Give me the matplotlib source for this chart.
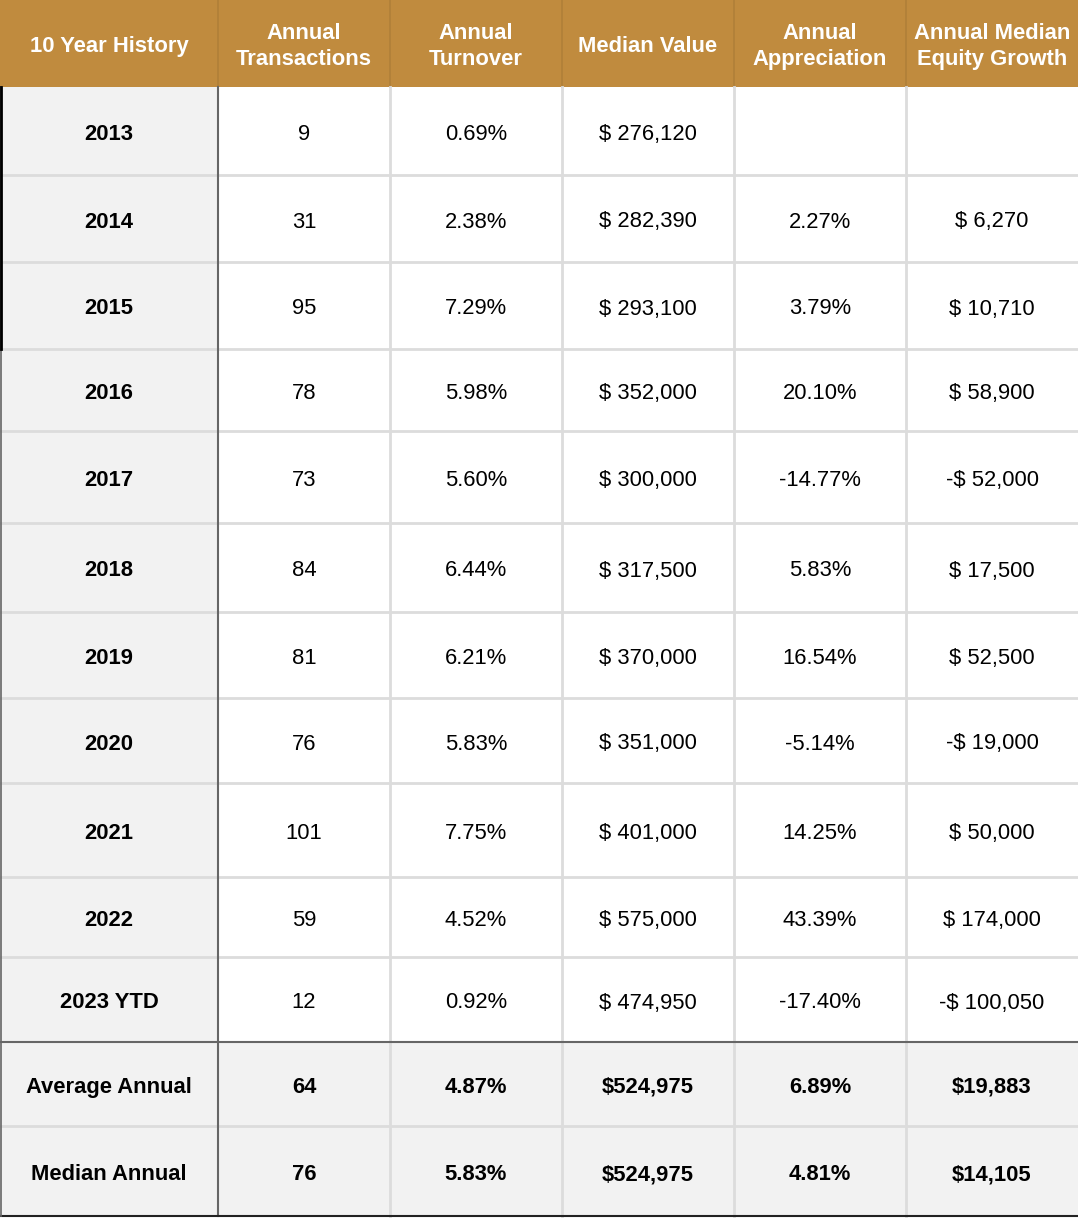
import matplotlib.pyplot as plt
from matplotlib.patches import Rectangle

plt.rcParams['font.family'] = ['Liberation Sans', 'DejaVu Sans']

# table data
headers = ['10 Year History', 'Annual\nTransactions', 'Annual\nTurnover',
           'Median Value', 'Annual\nAppreciation', 'Annual Median\nEquity Growth']
years = ['2013', '2014', '2015', '2016', '2017', '2018', '2019', '2020',
         '2021', '2022', '2023 YTD']
transactions = ['9', '31', '95', '78', '73', '84', '81', '76', '101', '59', '12']
turnover = ['0.69%', '2.38%', '7.29%', '5.98%', '5.60%', '6.44%', '6.21%',
            '5.83%', '7.75%', '4.52%', '0.92%']
median_value = ['$ 276,120', '$ 282,390', '$ 293,100', '$ 352,000', '$ 300,000',
                '$ 317,500', '$ 370,000', '$ 351,000', '$ 401,000', '$ 575,000',
                '$ 474,950']
appreciation = ['', '2.27%', '3.79%', '20.10%', '-14.77%', '5.83%', '16.54%',
                '-5.14%', '14.25%', '43.39%', '-17.40%']
equity_growth = ['', '$ 6,270', '$ 10,710', '$ 58,900', '-$ 52,000', '$ 17,500',
                 '$ 52,500', '-$ 19,000', '$ 50,000', '$ 174,000', '-$ 100,050']
summary_labels = ['Average Annual', 'Median Annual']
summary_rows = [['64', '4.87%', '$524,975', '6.89%', '$19,883'],
                ['76', '5.83%', '$524,975', '4.81%', '$14,105']]

# layout (pixels)
col_x = [0, 218, 390, 562, 734, 906, 1078]
row_y = [0, 87, 175, 262, 349, 431, 523, 612, 698, 783, 877, 957, 1042, 1126, 1216]

W, H = 1078, 1218
fig = plt.figure(figsize=(W / 100, H / 100), dpi=100)
ax = fig.add_axes([0, 0, 1, 1])
ax.set_xlim(0, W)
ax.set_ylim(H, 0)
ax.axis('off')

gold = '#C08B3E'
gray = '#F2F2F2'
grid = '#DCDCDC'
dark = '#666666'
fs = 15.8


def cell_text(x, y, s, **kw):
    # baseline placed so the cap height sits in the middle of the cell
    ax.text(x, y + 9, s, ha='center', va='baseline', fontsize=fs, **kw)


# header
ax.add_patch(Rectangle((0, row_y[0]), W, row_y[1] - row_y[0], color=gold, lw=0))
for j, h in enumerate(headers):
    cx = (col_x[j] + col_x[j + 1]) / 2
    cy = (row_y[0] + row_y[1]) / 2 + 3
    ax.text(cx, cy, h, ha='center', va='center', color='white',
            fontsize=fs, fontweight='bold', linespacing=1.3)
for x in col_x[1:-1]:
    ax.plot([x, x], [row_y[0], row_y[1]], color='#B07F38', lw=1.2)

# body rows
cols = [transactions, turnover, median_value, appreciation, equity_growth]
for i, yr in enumerate(years):
    y0, y1 = row_y[i + 1], row_y[i + 2]
    cy = (y0 + y1) / 2
    ax.add_patch(Rectangle((col_x[0], y0), col_x[1] - col_x[0], y1 - y0,
                           color=gray, lw=0))
    cell_text((col_x[0] + col_x[1]) / 2, cy, yr, fontweight='bold', color='black')
    for j, c in enumerate(cols):
        cell_text((col_x[j + 1] + col_x[j + 2]) / 2, cy, c[i], color='black')

# summary rows
n = len(years)
for k, lab in enumerate(summary_labels):
    y0, y1 = row_y[n + 1 + k], row_y[n + 2 + k]
    cy = (y0 + y1) / 2
    ax.add_patch(Rectangle((0, y0), W, y1 - y0, color=gray, lw=0))
    cell_text((col_x[0] + col_x[1]) / 2, cy, lab, fontweight='bold')
    for j, v in enumerate(summary_rows[k]):
        cell_text((col_x[j + 1] + col_x[j + 2]) / 2, cy, v, fontweight='bold')

# grid lines
for y in row_y[2:-1]:
    if y == row_y[n + 1]:
        continue
    ax.plot([0, W], [y, y], color=grid, lw=2)
for x in col_x[2:-1]:
    ax.plot([x, x], [row_y[1], row_y[-1]], color=grid, lw=2)
ax.plot([col_x[1], col_x[1]], [row_y[1], row_y[-1]], color=dark, lw=1.5)
ax.plot([0, W], [row_y[n + 1], row_y[n + 1]], color=dark, lw=1.5)
ax.plot([0, W], [row_y[-1], row_y[-1]], color='#222222', lw=1.5)
ax.plot([1, 1], [row_y[1], row_y[-1]], color=dark, lw=1.2)
ax.plot([1, 1], [row_y[1], row_y[4]], color='black', lw=2)

fig.savefig('out.png', dpi=100)
